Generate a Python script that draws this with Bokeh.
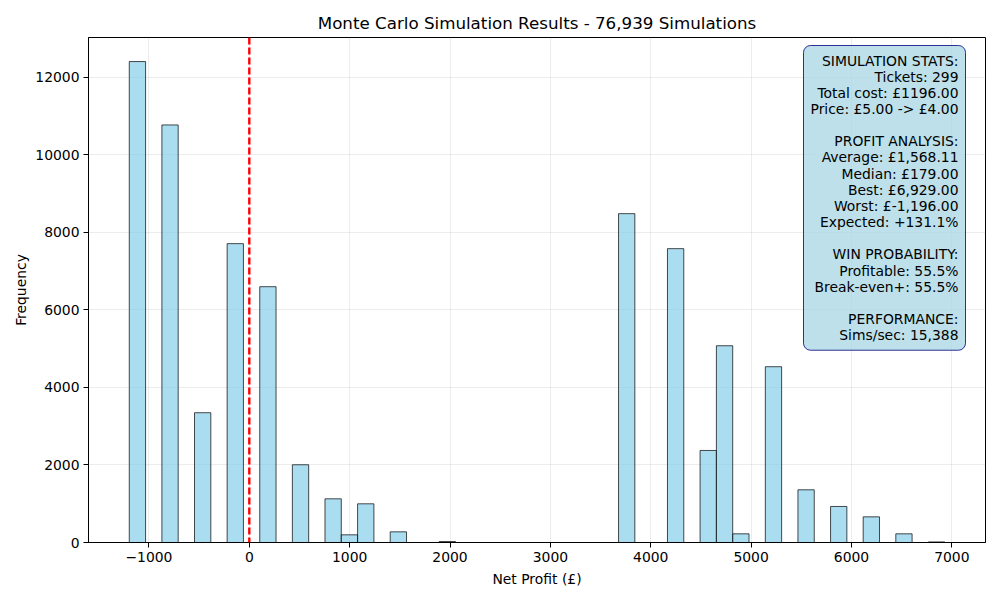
import numpy as np
from bokeh.plotting import figure
from bokeh.models import Range1d, Span, Label, FixedTicker
from bokeh.embed import file_html
from bokeh.resources import INLINE

# Simulation summary
n_sims = 76939
worst_profit = -1196.0
best_profit = 6929.0
n_bins = 50

# Histogram counts per bin (50 equal-width bins from worst to best)
counts = [
    12405, 0, 10770, 0, 3347, 0, 7708, 0, 6598, 0,
    2005, 0, 1127, 198, 998, 0, 275, 0, 0, 25,
    0, 0, 0, 0, 0, 0, 0, 0, 0, 0,
    8482, 0, 0, 7579, 0, 2374, 5075, 224, 0, 4534,
    0, 1359, 0, 929, 0, 662, 0, 224, 0, 15,
]

x_ticks = [-1000, 0, 1000, 2000, 3000, 4000, 5000, 6000, 7000]
y_ticks = [0, 2000, 4000, 6000, 8000, 10000, 12000]

stats_lines = [
    "SIMULATION STATS:",
    "Tickets: 299",
    "Total cost: £1196.00",
    "Price: £5.00 -> £4.00",
    "",
    "PROFIT ANALYSIS:",
    "Average: £1,568.11",
    "Median: £179.00",
    "Best: £6,929.00",
    "Worst: £-1,196.00",
    "Expected: +131.1%",
    "",
    "WIN PROBABILITY:",
    "Profitable: 55.5%",
    "Break-even+: 55.5%",
    "",
    "PERFORMANCE:",
    "Sims/sec: 15,388",
]

edges = np.linspace(worst_profit, best_profit, n_bins + 1)
span = best_profit - worst_profit
ymax = max(counts) * 1.05

FONT = "DejaVu Sans"
FS = "13.9px"

p = figure(
    width=1000, height=600,
    output_backend="svg", toolbar_location=None,
    x_range=Range1d(worst_profit - 0.05 * span, best_profit + 0.05 * span),
    y_range=Range1d(0, ymax),
    title=f"Monte Carlo Simulation Results - {n_sims:,} Simulations",
    min_border_left=88, min_border_right=15, min_border_top=37, min_border_bottom=58,
)

p.title.align = "center"
p.title.text_font = FONT
p.title.text_font_size = "16.7px"
p.title.text_font_style = "normal"
p.title.text_color = "black"

p.quad(left=edges[:-1], right=edges[1:], bottom=0, top=counts,
       fill_color="skyblue", fill_alpha=0.7,
       line_color="black", line_alpha=0.7, line_width=1)

p.add_layout(Span(location=0, dimension="height", line_color="red",
                  line_dash="7 3", line_width=2.4))

for ax in (p.xaxis[0], p.yaxis[0]):
    ax.major_label_text_font = FONT
    ax.major_label_text_font_size = FS
    ax.major_label_text_color = "black"
    ax.axis_label_text_font = FONT
    ax.axis_label_text_font_size = FS
    ax.axis_label_text_font_style = "normal"
    ax.axis_label_text_color = "black"
    ax.minor_tick_line_color = None
    ax.major_tick_in = 0
    ax.major_tick_out = 5
    ax.major_tick_line_color = "black"
    ax.axis_line_color = "black"

p.xaxis.axis_label = "Net Profit (£)"
p.yaxis.axis_label = "Frequency"
p.xaxis.ticker = FixedTicker(ticks=x_ticks)
p.yaxis.ticker = FixedTicker(ticks=y_ticks)
p.xaxis.major_label_standoff = 4
p.yaxis.major_label_standoff = 4
p.yaxis.axis_label_standoff = 3
p.xaxis.axis_label_standoff = 6

p.grid.grid_line_color = "#b0b0b0"
p.grid.grid_line_alpha = 0.3
p.grid.grid_line_width = 0.8
p.outline_line_color = "black"
p.outline_line_alpha = 1
p.outline_line_width = 1
p.background_fill_color = "white"
p.border_fill_color = "white"

stats = Label(
    x=best_profit + 0.05 * span - 22 * span / 897, y=ymax * (1 - 8.0 / 505),
    text="\n".join(stats_lines),
    text_align="right", text_baseline="top", anchor="top_right",
    text_font=FONT, text_font_size=FS, text_color="black",
    text_line_height=1.01,
    background_fill_color="lightblue", background_fill_alpha=0.8,
    border_line_color="navy", border_line_alpha=0.8, border_line_width=1,
    padding=7, border_radius=7,
)
p.add_layout(stats)

open("out.html", "w").write(file_html(p, INLINE))
